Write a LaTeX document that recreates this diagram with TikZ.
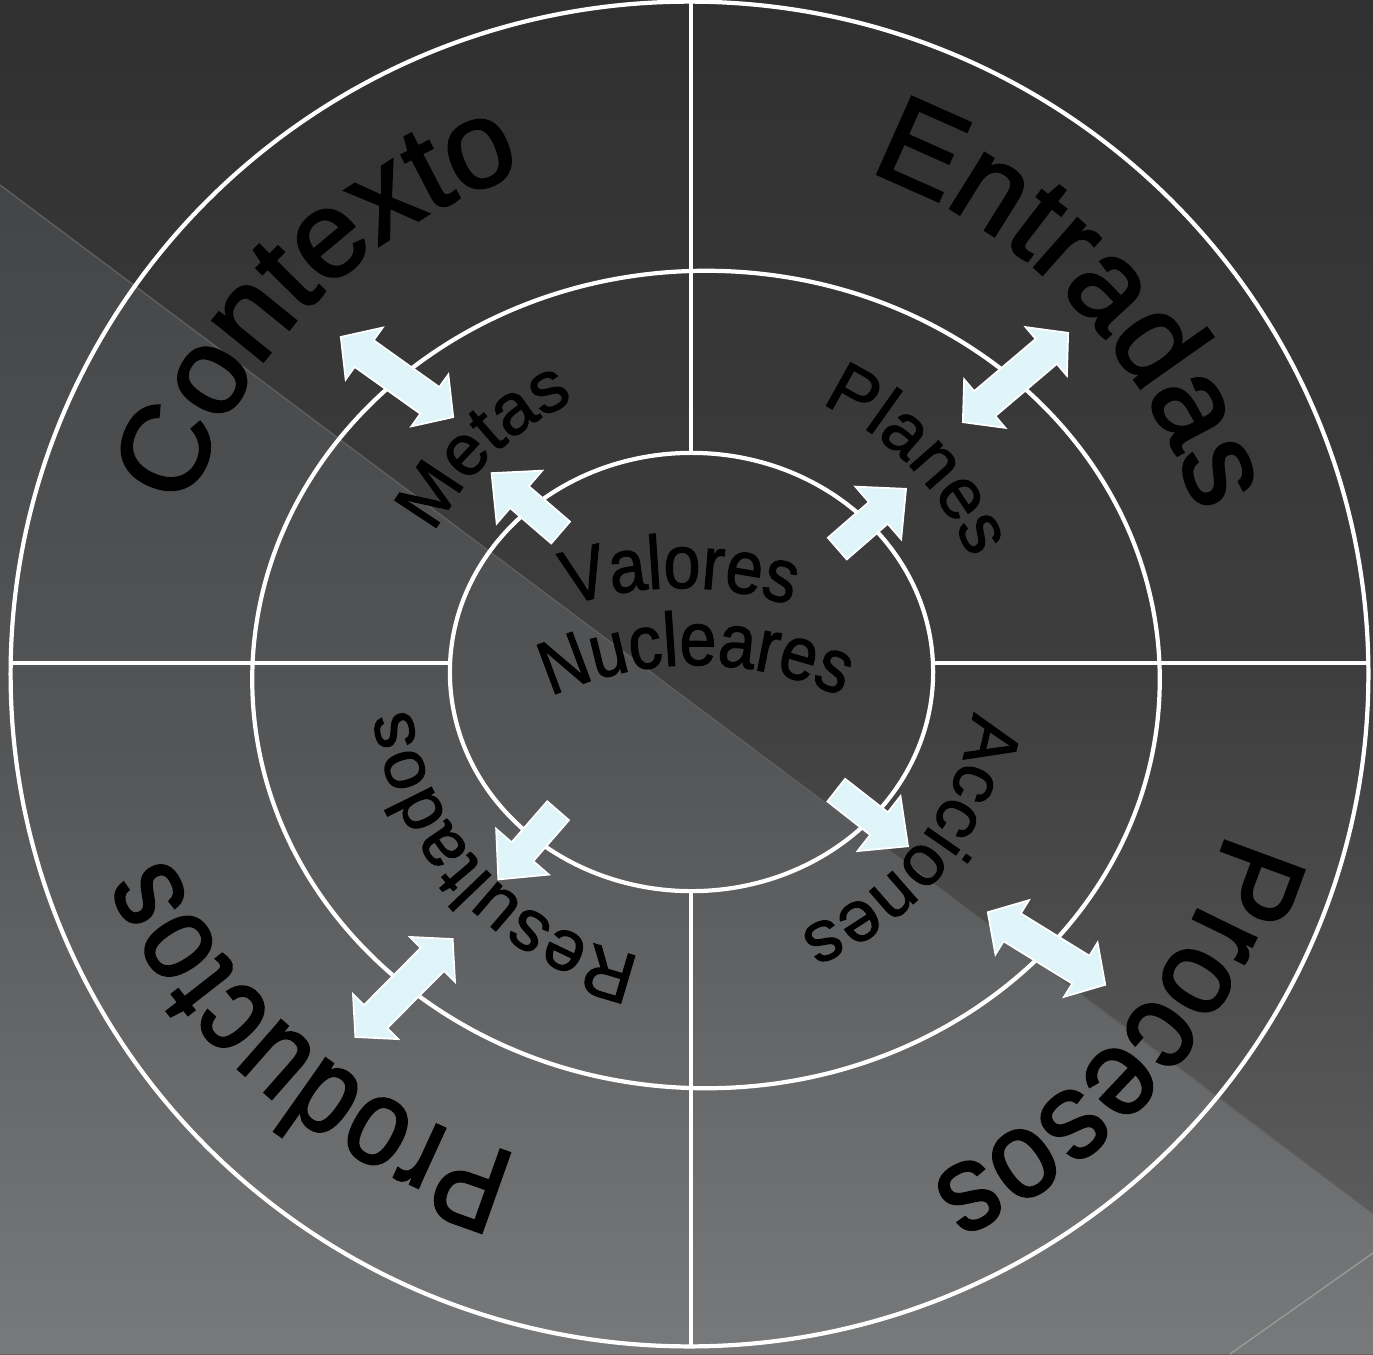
\documentclass[tikz,border=0pt]{standalone}
\usepackage{fontspec}
\setmainfont{Liberation Sans}
\newfontfamily\ringsans[FakeBold=2]{Liberation Sans}
\newfontfamily\ringlean[FakeBold=2, FakeStretch=0.92]{Liberation Sans}
\newfontfamily\ringtight[FakeBold=2, FakeStretch=0.86]{Liberation Sans}
\newfontfamily\midsans[FakeBold=1.5]{Liberation Sans}
\newfontfamily\coresans[FakeBold=1.5, FakeStretch=0.88]{Liberation Sans}
\usepackage{xcolor}
\usepackage{tikz}
\definecolor{wheelDark}{HTML}{303030}
\definecolor{wheelMid}{HTML}{3E3E3E}
\definecolor{wheelLow}{HTML}{636363}
\definecolor{paneTop}{HTML}{444546}
\definecolor{paneMid}{HTML}{555657}
\definecolor{paneLow}{HTML}{78797A}
\definecolor{seamGray}{HTML}{5E5E5E}
\definecolor{flowCyan}{HTML}{E0F5FA}
\usetikzlibrary{shapes.geometric,shapes.arrows,decorations.text,calc}

\newcommand{\outerlbl}{\fontsize{35}{40}\selectfont}
\newcommand{\innerlbl}{\midsans\fontsize{20.5}{24}\selectfont}
\newcommand{\corelbl}{\coresans\fontsize{21.5}{25}\selectfont}

\begin{document}
\begin{tikzpicture}[
  x=0.01cm, y=-0.01cm,
  ring/.style={draw=white, line width=1.2pt, ellipse, inner sep=0pt, outer sep=0pt},
  spoke/.style={white, line width=1.1pt},
  flowone/.style={single arrow, draw=white, line width=0.5pt, fill=flowCyan, inner sep=1.35mm, minimum height=9.1mm, single arrow head extend=2.05mm, single arrow tip angle=87, anchor=tip},
  flowtwo/.style={double arrow, draw=white, line width=0.5pt, fill=flowCyan, inner sep=1.55mm, minimum height=13.8mm, double arrow head extend=1.55mm, double arrow tip angle=96},
  ringlabel/.style={decorate, decoration={text along path, text align=center}}
]

% Background
\useasboundingbox (0,0) rectangle (1373,1354);
\shade[top color=wheelDark, bottom color=wheelLow, middle color=wheelMid] (0,0) rectangle (1373,1354);
\shade[top color=paneTop, bottom color=paneLow, middle color=paneMid] (0,185) -- (1373,1213) -- (1373,1354) -- (0,1354) -- cycle;
\draw[seamGray, line width=0.4pt] (0,185) -- (1373,1213);
\draw[gray!80, line width=0.4pt] (1373,1253) -- (1230,1354);

% Rings
\node[ring, minimum width=13.57cm, minimum height=13.44cm] (ringOuter) at (689.5,674) {};
\node[ring, minimum width=9.07cm, minimum height=8.17cm] (ringMid) at (706,679.5) {};
\node[ring, minimum width=4.83cm, minimum height=4.38cm] (core) at (691.5,672) {};

% Spokes
\coordinate (axis) at (691,663);
\draw[spoke] (ringOuter.north -| axis) -- (core.north -| axis);
\draw[spoke] (core.south -| axis) -- (ringOuter.south -| axis);
\draw[spoke] (ringOuter.west |- axis) -- (core.west |- axis);
\draw[spoke] (core.east |- axis) -- (ringOuter.east |- axis);

% Outer ring labels
\path[ringlabel, decoration={text={|\ringsans\outerlbl|Contexto}}] ($(ringOuter.center)+(165:528)$) arc[start angle=165, end angle=285, radius=528];
\path[ringlabel, decoration={text={|\ringsans\outerlbl|Entradas}}] ($(ringOuter.center)+(256:533)$) arc[start angle=256, end angle=376, radius=533];
\path[ringlabel, decoration={text={|\ringlean\outerlbl|Procesos}}] ($(ringOuter.center)+(-19.5:560)$) arc[start angle=-19.5, end angle=100.5, radius=560];
\path[ringlabel, decoration={text={|\ringtight\outerlbl|Productos}}] ($(ringOuter.center)+(75:560 and 505)$) arc[start angle=75, end angle=195, x radius=560, y radius=505];

% Middle ring labels
\coordinate (hub) at (698,672);
\path[ringlabel, decoration={text={|\innerlbl|Metas}}] ($(hub)+(151.6:298)$) arc[start angle=151.6, end angle=301.6, radius=298];
\path[ringlabel, decoration={text={|\innerlbl|Planes}}] ($(hub)+(241:295)$) arc[start angle=241, end angle=391, radius=295];
\path[ringlabel, decoration={text={|\innerlbl|Acciones}}] ($(hub)+(-36.5:278)$) arc[start angle=-36.5, end angle=113.5, radius=278];
\path[ringlabel, decoration={text={|\innerlbl|Resultados}}] ($(hub)+(62:290)$) arc[start angle=62, end angle=212, radius=290];

% Core label
\coordinate (valoresArc) at (680,950);
\coordinate (nuclearesArc) at (696,1015);
\path[ringlabel, decoration={text={|\corelbl|Valores}}] ($(valoresArc)+(210:362)$) arc[start angle=210, end angle=330, radius=362];
\path[ringlabel, decoration={text={|\corelbl|Nucleares}}] ($(nuclearesArc)+(210:350)$) arc[start angle=210, end angle=330, radius=350];

% Core to middle ring
\node[flowone, rotate=139.3] (arrMetas) at (490.6,472.3) {};
\node[flowone, rotate=41] (arrPlanes) at (907,488) {};
\node[flowone, rotate=-38] (arrAcciones) at (909,847) {};
\node[flowone, rotate=-131] (arrResultados) at (497.5,880.4) {};

% Middle ring to outer ring
\node[flowtwo, rotate=-35.5] (linkContexto) at (397,377) {};
\node[flowtwo, rotate=40.3] (linkEntradas) at (1015.5,377.5) {};
\node[flowtwo, rotate=-31.7] (linkProcesos) at (1046.5,948.5) {};
\node[flowtwo, rotate=45.2] (linkProductos) at (404,988) {};

\end{tikzpicture}
\end{document}
